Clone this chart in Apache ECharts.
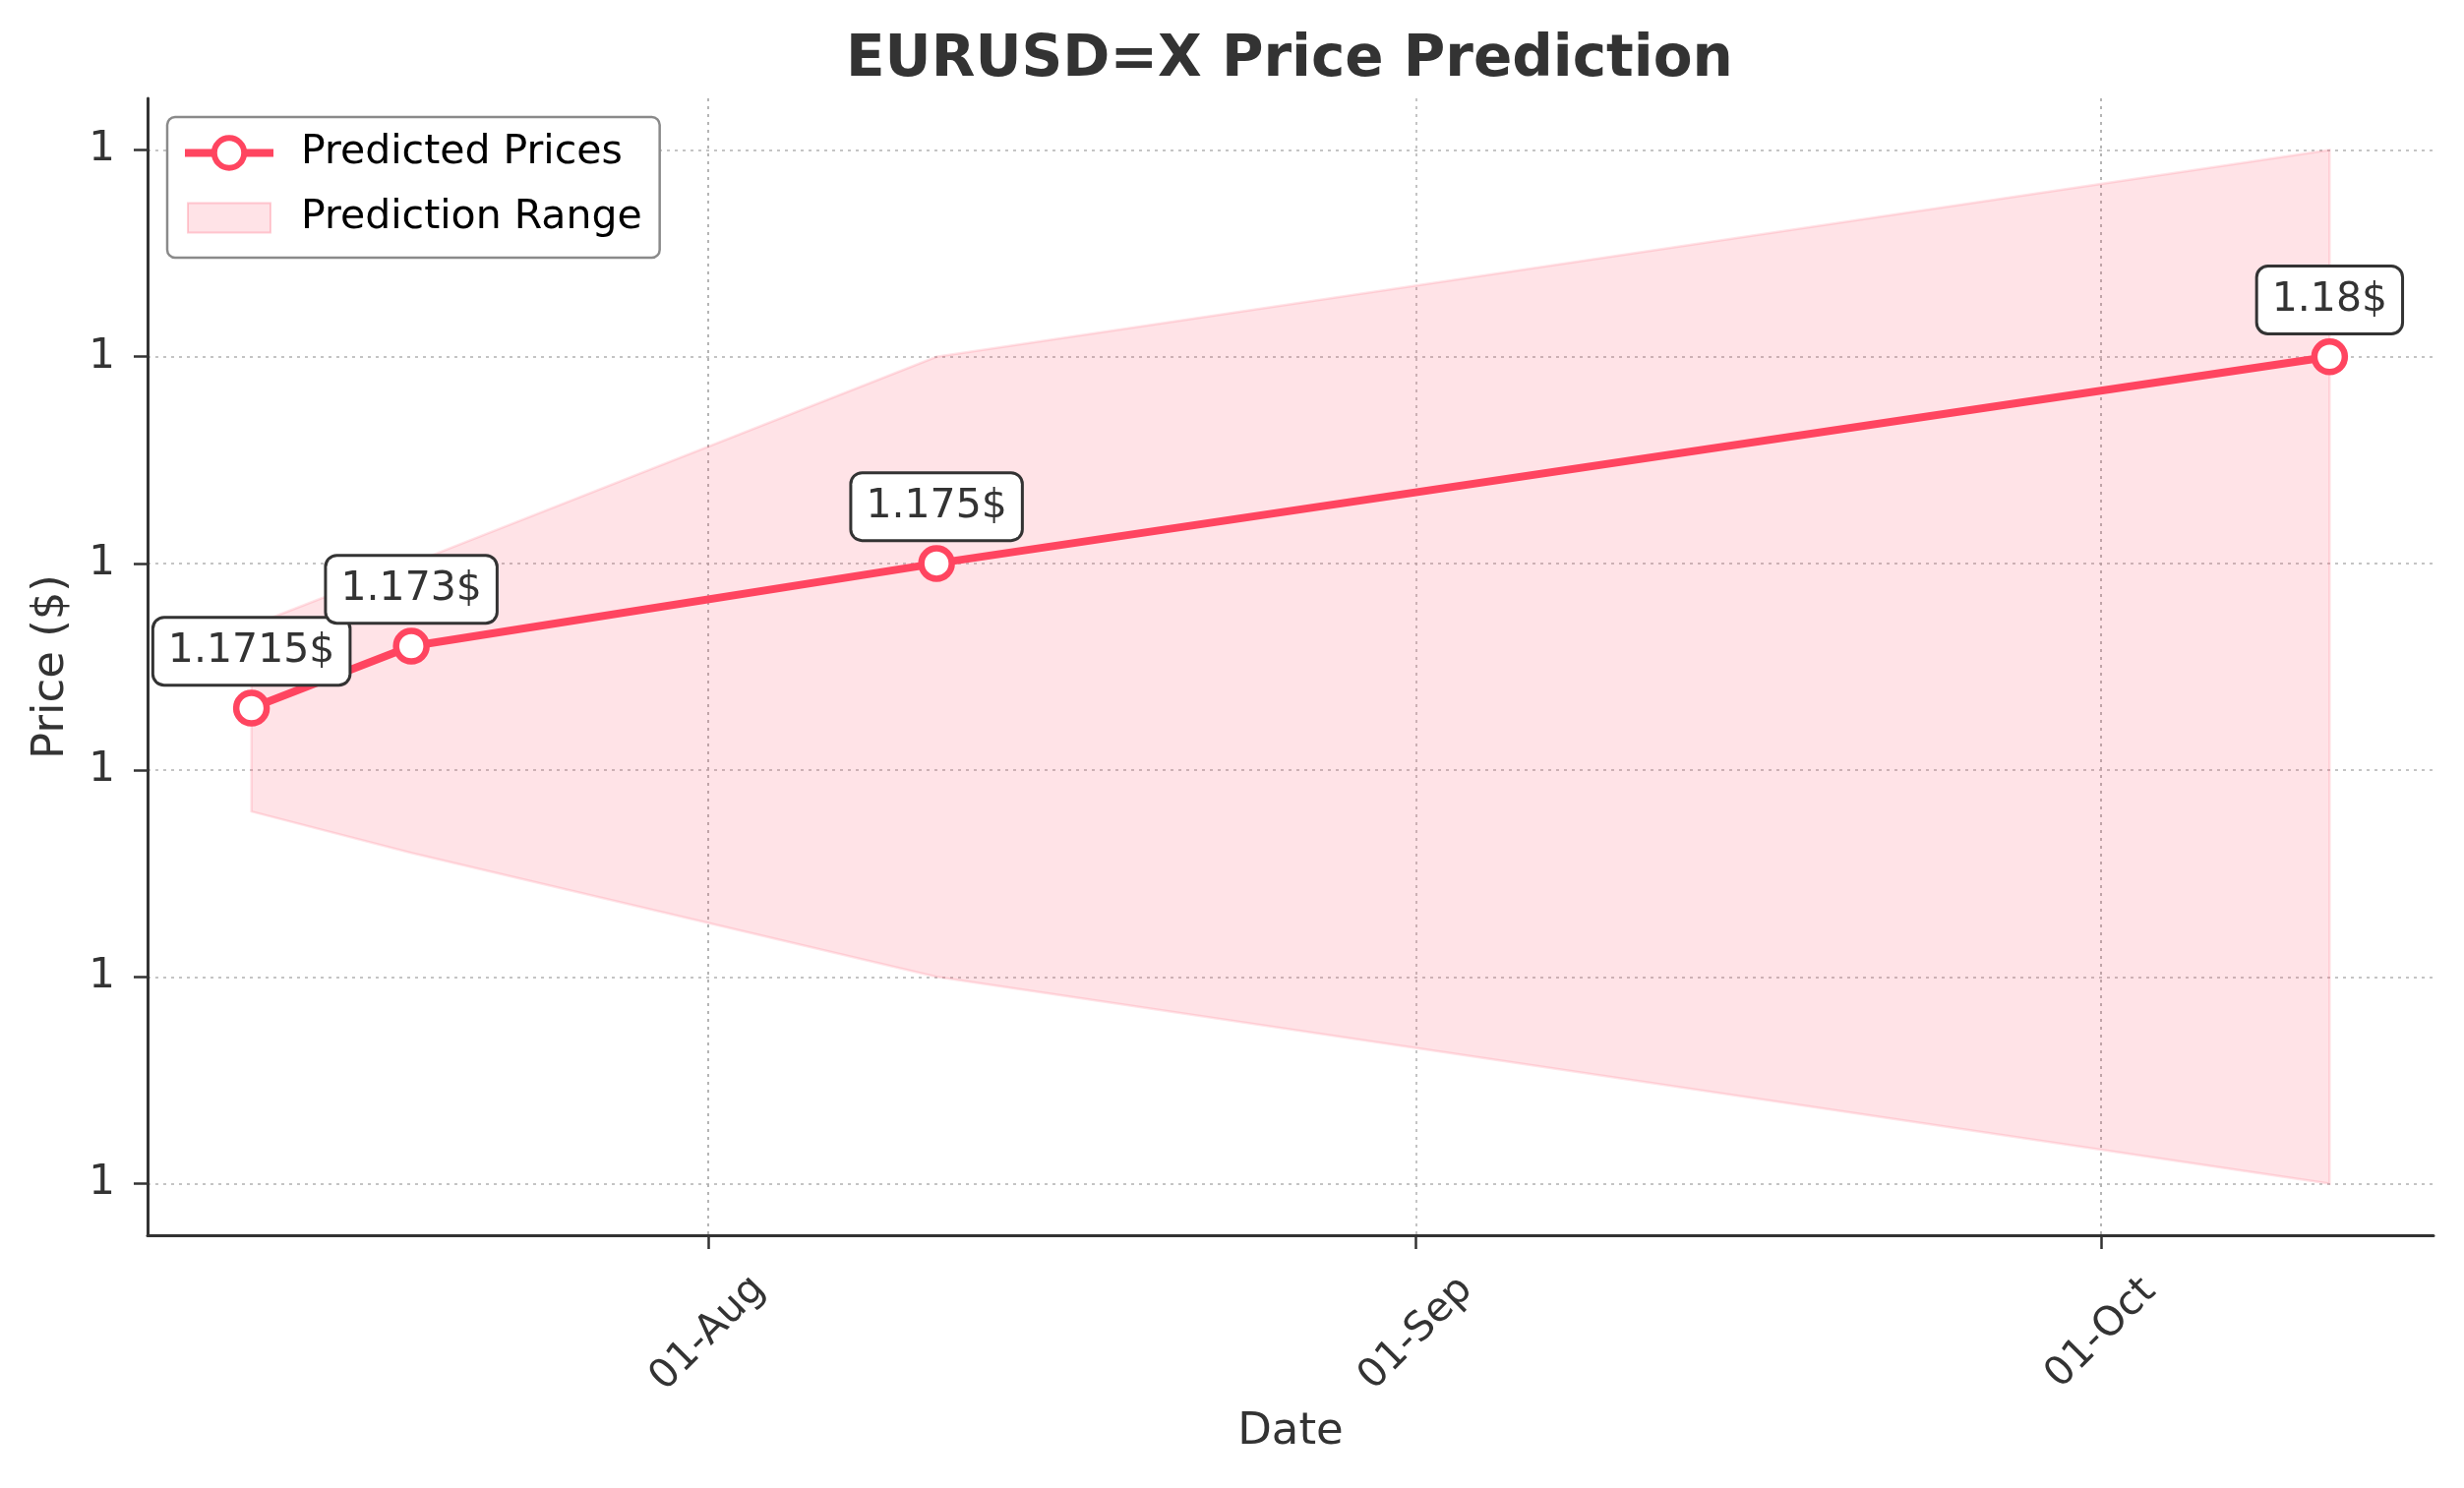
<!DOCTYPE html>
<html>
<head>
<meta charset="utf-8">
<script src="https://cdn.jsdelivr.net/npm/echarts@6/dist/echarts.min.js"></script>
<style>html,body{margin:0;padding:0;background:#fff;}#c{width:2505px;height:1513px;}</style>
</head>
<body>
<div id="c"></div>
<script>
const dates = ['2025-07-12', '2025-07-19', '2025-08-11', '2025-10-11'];
const predicted = [1.1715, 1.173, 1.175, 1.18];
const upper = [1.1735, 1.175, 1.18, 1.185];
const lower = [1.169, 1.168, 1.165, 1.16];
const yTicks = [1.16, 1.165, 1.17, 1.175, 1.18, 1.185];
const xTicks = ['2025-08-01', '2025-09-01', '2025-10-01'];

const toTs = s => { const [y, m, d] = s.split('-').map(Number); return new Date(y, m - 1, d).getTime(); };
const RED = '#FF4560';
const FILL = 'rgba(255,69,96,0.15)';
const TXT = '#333333';
const FONT = 'DejaVu Sans';

const t0 = toTs(dates[0]), t1 = toTs(dates[dates.length - 1]);
const xPad = (t1 - t0) * 0.05;
const yMin0 = Math.min(...lower), yMax0 = Math.max(...upper);
const yPad = (yMax0 - yMin0) * 0.05;

const chart = echarts.init(document.getElementById('c'), null, {renderer: 'canvas'});
chart.setOption({
  animation: false,
  backgroundColor: '#fff',
  textStyle: {fontFamily: FONT, color: TXT},
  title: {
    text: 'EURUSD=X Price Prediction',
    left: 860, top: 33, padding: 0,
    textStyle: {fontSize: 58, fontWeight: 'bold', color: TXT, fontFamily: FONT}
  },
  legend: {
    orient: 'vertical',
    left: 170, top: 119,
    padding: [16, 18, 20, 14],
    itemWidth: 90, itemHeight: 38, itemGap: 25,
    borderColor: '#8a8a8a', borderWidth: 2.5, borderRadius: 8,
    backgroundColor: '#fff',
    textStyle: {fontSize: 41, color: '#000', fontFamily: FONT, padding: [0, 0, 0, 23], lineHeight: 38},
    data: [
      {name: 'Predicted Prices',
       lineStyle: {color: RED, width: 8},
       itemStyle: {color: '#ffffff', borderColor: RED, borderWidth: 6}},
      {name: 'Prediction Range', icon: 'path://M0,0M90,38M3,4h84v30h-84z',
       itemStyle: {color: FILL, borderColor: 'rgba(255,69,96,0.25)', borderWidth: 2}}
    ]
  },
  grid: {left: 150, right: 31, top: 100, bottom: 257, containLabel: false},
  xAxis: {
    type: 'time',
    min: t0 - xPad, max: t1 + xPad,
    axisLine: {show: true, lineStyle: {color: TXT, width: 3}},
    axisTick: {show: true, length: 14, lineStyle: {color: TXT, width: 2.5}, customValues: xTicks.map(toTs)},
    axisLabel: {
      customValues: xTicks.map(toTs),
      formatter: '{dd}-{MMM}',
      rotate: 45, align: 'center', verticalAlign: 'middle', margin: 100,
      fontSize: 41, color: TXT, fontFamily: FONT
    },
    splitLine: {show: true, lineStyle: {color: 'rgba(176,176,176,0.75)', width: 2, type: [3, 5]}},
    name: 'Date', nameLocation: 'middle', nameGap: 178,
    nameTextStyle: {fontSize: 45, color: TXT, fontFamily: FONT}
  },
  yAxis: {
    type: 'value',
    min: yMin0 - yPad, max: yMax0 + yPad,
    axisLine: {show: true, lineStyle: {color: TXT, width: 3}},
    axisTick: {show: true, length: 14, lineStyle: {color: TXT, width: 2.5}, customValues: yTicks},
    axisLabel: {
      customValues: yTicks,
      formatter: v => v.toFixed(0),
      margin: 33, fontSize: 42, color: TXT, fontFamily: FONT
    },
    splitLine: {show: true, lineStyle: {color: 'rgba(176,176,176,0.75)', width: 2, type: [3, 5]}},
    name: 'Price ($)', nameLocation: 'middle', nameGap: 75, nameRotate: 90,
    nameTextStyle: {fontSize: 45, color: TXT, fontFamily: FONT}
  },
  series: [
    {
      name: 'Prediction Range',
      type: 'custom',
      z: 1,
      itemStyle: {color: FILL},
      data: dates.map((d, i) => [toTs(d), lower[i], upper[i]]),
      encode: {x: 0, y: [1, 2]},
      renderItem: (params, api) => {
        if (params.dataIndex !== 0) return null;
        const pts = [];
        for (let i = 0; i < dates.length; i++) pts.push(api.coord([toTs(dates[i]), upper[i]]));
        for (let i = dates.length - 1; i >= 0; i--) pts.push(api.coord([toTs(dates[i]), lower[i]]));
        return {
          type: 'polygon',
          shape: {points: pts},
          style: {fill: FILL, stroke: 'rgba(255,69,96,0.15)', lineWidth: 2.5}
        };
      }
    },
    {
      name: 'Predicted Prices',
      type: 'line',
      z: 5,
      data: dates.map((d, i) => [toTs(d), predicted[i]]),
      symbol: 'circle', symbolSize: 31,
      itemStyle: {color: '#ffffff', borderColor: RED, borderWidth: 6.5},
      lineStyle: {color: RED, width: 8},
      label: {
        show: true, position: 'top', distance: 6,
        formatter: p => p.value[1] + '$',
        fontSize: 41, color: TXT, fontFamily: FONT,
        backgroundColor: '#fff', borderColor: TXT, borderWidth: 3, borderRadius: 10,
        padding: [10, 14], lineHeight: 46
      }
    }
  ]
});
</script>
</body>
</html>
